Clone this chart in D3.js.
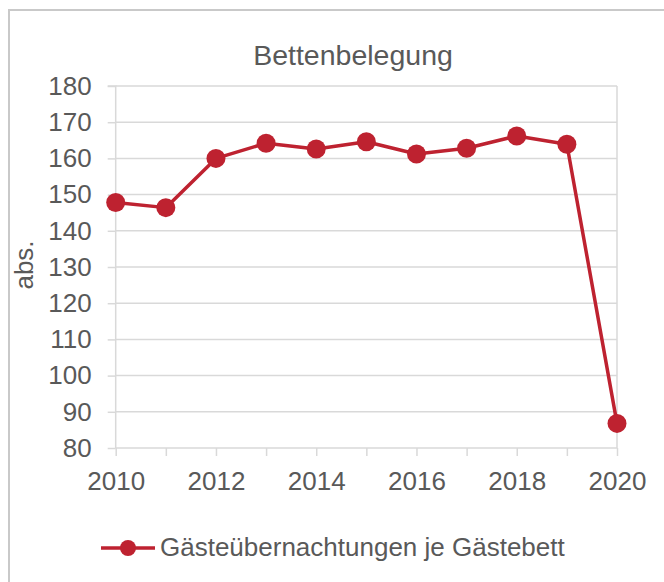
<!DOCTYPE html>
<html>
<head>
<meta charset="utf-8">
<script src="https://cdn.jsdelivr.net/npm/d3@7"></script>
<style>
  html, body { margin: 0; padding: 0; background: #fff; }
  svg { display: block; }
  text { font-family: "Liberation Sans", Arial, sans-serif; fill: #595959; }
</style>
</head>
<body>
<svg id="chart" width="664" height="582"></svg>
<script>
// Gästeübernachtungen je Gästebett, 2010–2020
const years = [2010, 2011, 2012, 2013, 2014, 2015, 2016, 2017, 2018, 2019, 2020];
const values = [147.8, 146.4, 160.0, 164.2, 162.6, 164.6, 161.2, 162.8, 166.2, 163.9, 86.8];
const xTickLabels = [2010, 2012, 2014, 2016, 2018, 2020];
const yTicks = [80, 90, 100, 110, 120, 130, 140, 150, 160, 170, 180];
const chartTitle = "Bettenbelegung";
const yTitle = "abs.";
const seriesName = "Gästeübernachtungen je Gästebett";

const red = "#be2230";
const gridColor = "#d9d9d9";
const labelFont = "26px";

const svg = d3.select("#chart");

// chart frame (left and top edges)
svg.append("path")
  .attr("d", "M9,582 L9,10 L664,10")
  .attr("fill", "none")
  .attr("stroke", "#c9c9c9")
  .attr("stroke-width", 2);

const plot = { left: 115.7, right: 617, top: 86, bottom: 448 };

const x = d3.scaleLinear().domain([2010, 2020]).range([plot.left, plot.right]);
const y = d3.scaleLinear().domain([80, 180]).range([plot.bottom, plot.top]);

// horizontal gridlines
svg.append("g")
  .selectAll("line")
  .data(yTicks.filter(v => v !== 80))
  .join("line")
  .attr("x1", plot.left).attr("x2", plot.right)
  .attr("y1", d => y(d)).attr("y2", d => y(d))
  .attr("stroke", gridColor).attr("stroke-width", 1.5);

// right edge of plot
svg.append("line")
  .attr("x1", plot.right).attr("x2", plot.right)
  .attr("y1", plot.top).attr("y2", plot.bottom)
  .attr("stroke", gridColor).attr("stroke-width", 1.5);

// y axis
const yAxis = svg.append("g")
  .attr("transform", `translate(${plot.left},0)`)
  .call(d3.axisLeft(y).tickValues(yTicks).tickSize(8).tickPadding(16));
yAxis.select(".domain").attr("stroke", gridColor).attr("stroke-width", 1.5)
  .attr("d", `M-8,${plot.top}H0V${plot.bottom}`);
yAxis.selectAll(".tick line").attr("stroke", gridColor).attr("stroke-width", 1.5);
yAxis.selectAll(".tick text")
  .style("font-size", labelFont)
  .style("fill", "#595959")
  .style("font-family", "'Liberation Sans', Arial, sans-serif");

// x axis: a tick for every year, labels every second year
const xAxis = svg.append("g")
  .attr("transform", `translate(0,${plot.bottom})`)
  .call(d3.axisBottom(x).tickValues(years).tickSize(8).tickPadding(15.5)
    .tickFormat(d => xTickLabels.includes(d) ? String(d) : ""));
xAxis.select(".domain").attr("stroke", gridColor).attr("stroke-width", 1.5)
  .attr("d", `M${plot.left},0H${plot.right}`);
xAxis.selectAll(".tick line").attr("stroke", gridColor).attr("stroke-width", 1.5);
xAxis.selectAll(".tick text")
  .style("font-size", labelFont)
  .style("fill", "#595959")
  .style("font-family", "'Liberation Sans', Arial, sans-serif");

// title
svg.append("text")
  .attr("x", 353).attr("y", 65)
  .attr("text-anchor", "middle")
  .style("font-size", "28.5px")
  .text(chartTitle);

// y axis title
svg.append("text")
  .attr("transform", "translate(33,265) rotate(-90)")
  .attr("text-anchor", "middle")
  .style("font-size", labelFont)
  .text(yTitle);

// series line
const data = years.map((yr, i) => ({ yr, v: values[i] }));
svg.append("path")
  .datum(data)
  .attr("fill", "none")
  .attr("stroke", red)
  .attr("stroke-width", 3.5)
  .attr("stroke-linejoin", "round")
  .attr("d", d3.line().x(d => x(d.yr)).y(d => y(d.v)));

svg.append("g")
  .selectAll("circle")
  .data(data)
  .join("circle")
  .attr("cx", d => x(d.yr))
  .attr("cy", d => y(d.v))
  .attr("r", 9.5)
  .attr("fill", red);

// legend
const legend = svg.append("g").attr("transform", "translate(0,548)");
legend.append("line")
  .attr("x1", 101).attr("x2", 155)
  .attr("stroke", red).attr("stroke-width", 3.5);
legend.append("circle")
  .attr("cx", 128).attr("r", 8)
  .attr("fill", red);
legend.append("text")
  .attr("x", 160).attr("y", 8)
  .style("font-size", labelFont)
  .text(seriesName);
</script>
</body>
</html>
